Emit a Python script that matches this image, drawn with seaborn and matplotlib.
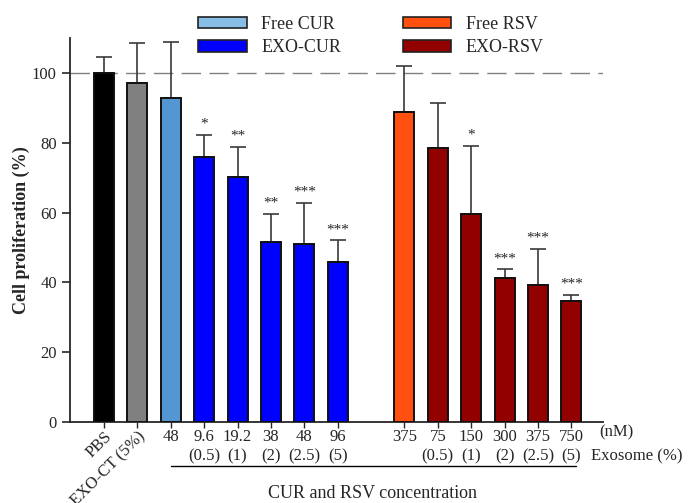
import matplotlib
matplotlib.use("Agg")
import matplotlib.pyplot as plt
import matplotlib.transforms as mtransforms
from matplotlib.patches import Patch
import seaborn as sns
import pandas as pd

# ---- data ----
bar_ids = ["PBS", "EXO-CT", "FCUR48", "ECUR9.6", "ECUR19.2", "ECUR38", "ECUR48", "ECUR96",
           "FRSV375", "ERSV75", "ERSV150", "ERSV300", "ERSV375", "ERSV750"]
positions = [0, 1, 2, 3, 4, 5, 6, 7, 9, 10, 11, 12, 13, 14]
values = [100.0, 97.1, 92.8, 76.0, 70.3, 51.6, 51.0, 45.8, 88.8, 78.4, 59.5, 41.2, 39.3, 34.8]
err_upper = [4.6, 11.5, 16.1, 6.2, 8.6, 8.0, 11.7, 6.2, 13.3, 12.9, 19.7, 2.5, 10.2, 1.6]
stars = ["", "", "", "*", "**", "**", "***", "***", "", "", "*", "***", "***", "***"]
groups = ["PBS", "EXO-CT", "Free CUR", "EXO-CUR", "EXO-CUR", "EXO-CUR", "EXO-CUR", "EXO-CUR",
          "Free RSV", "EXO-RSV", "EXO-RSV", "EXO-RSV", "EXO-RSV", "EXO-RSV"]
tick_top = ["PBS", "EXO-CT (5%)", "48", "9.6", "19.2", "38", "48", "96",
            "375", "75", "150", "300", "375", "750"]
tick_bottom = ["", "", "", "(0.5)", "(1)", "(2)", "(2.5)", "(5)",
               "", "(0.5)", "(1)", "(2)", "(2.5)", "(5)"]

group_colors = {"PBS": "#000000", "EXO-CT": "#808080", "Free CUR": "#5296d2",
                "EXO-CUR": "#0000ff", "Free RSV": "#ff5010", "EXO-RSV": "#920000"}
legend_colors = {"Free CUR": "#88bde6", "EXO-CUR": "#0000ff",
                 "Free RSV": "#ff5010", "EXO-RSV": "#920000"}

df = pd.DataFrame({"pos": positions, "value": values, "group": groups, "id": bar_ids})

sns.set_style("ticks")
plt.rcParams["font.family"] = ["Liberation Serif", "DejaVu Serif"]

fig = plt.figure(figsize=(6.88, 5.03), dpi=100)
ax = fig.add_axes([70 / 688, 1 - 422 / 503, (603 - 70) / 688, (422 - 38) / 503])

sns.barplot(data=df, x="pos", y="value", hue="group", palette=group_colors,
            native_scale=True, dodge=False, width=0.6, saturation=1.0,
            edgecolor="#111111", linewidth=1.4, legend=False, ax=ax, zorder=3)

ax.errorbar(positions, values, yerr=[[0] * len(values), err_upper], fmt="none",
            ecolor="#3a3a3a", elinewidth=1.2, capsize=6, capthick=1.2, zorder=2)

for p, v, e, s in zip(positions, values, err_upper, stars):
    if s:
        ax.text(p, v + e + 1.2, s, ha="center", va="bottom", fontsize=11)

ax.axhline(100, color="#808080", lw=1.0, ls=(0, (14, 6)), zorder=1)

ax.set_xlim(-1.02, 14.95)
ax.set_ylim(0, 110)
ax.set_yticks([0, 20, 40, 60, 80, 100])
ax.tick_params(axis="y", labelsize=12, length=6, width=1.2)
ax.set_xticks(positions)
ax.set_xticklabels(tick_top)
ax.tick_params(axis="x", labelsize=12, length=4, width=1.0, pad=1)
for lbl in ax.get_xticklabels()[:2]:
    lbl.set_rotation(45)
    lbl.set_ha("right")
    lbl.set_rotation_mode("anchor")

trans = mtransforms.blended_transform_factory(ax.transData, fig.transFigure)
for p, s in zip(positions, tick_bottom):
    if s:
        ax.text(p, 1 - 456 / 503, s, transform=trans, ha="center", va="center", fontsize=12)

fig.text(616 / 688, 1 - 432 / 503, "(nM)", ha="center", va="center", fontsize=12)
fig.text(637 / 688, 1 - 456 / 503, "Exosome (%)", ha="center", va="center", fontsize=12)
fig.add_artist(plt.Line2D([171 / 688, 576 / 688], [1 - 466 / 503, 1 - 466 / 503],
                          color="black", lw=1.0, transform=fig.transFigure))
fig.text(372 / 688, 1 - 493 / 503, "CUR and RSV concentration", ha="center", va="center",
         fontsize=13)

ax.set_xlabel("")
ax.set_ylabel("Cell proliferation (%)", fontsize=13, fontweight="bold", labelpad=10)
ax.yaxis.set_label_coords(-0.075, 0.5)
for sp in ["top", "right"]:
    ax.spines[sp].set_visible(False)
for sp in ["left", "bottom"]:
    ax.spines[sp].set_linewidth(1.3)

handles = [Patch(facecolor=legend_colors[k], edgecolor="#222222", lw=1.2, label=k)
           for k in ["Free CUR", "EXO-CUR", "Free RSV", "EXO-RSV"]]
fig.legend(handles=handles, ncol=2, loc="center", bbox_to_anchor=(371 / 688, 1 - 36 / 503),
           frameon=False, fontsize=13, handlelength=2.7, handleheight=0.6,
           columnspacing=3.4, labelspacing=0.35, handletextpad=0.8)

fig.savefig("out.png", dpi=100)
